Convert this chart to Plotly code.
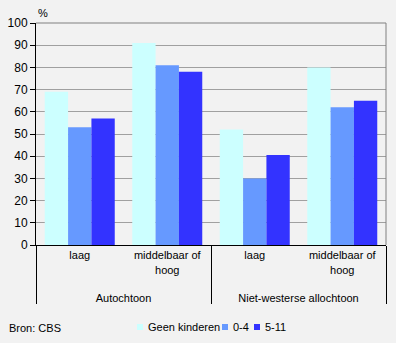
import plotly.graph_objects as go

groups = ["Autochtoon", "Autochtoon", "Niet-westerse allochtoon", "Niet-westerse allochtoon"]
levels = ["laag", "middelbaar of<br>hoog", "laag", "middelbaar of<br>hoog"]
series_names = ["Geen kinderen", "0-4", "5-11"]
geen_kinderen = [69, 91, 52, 80]
kind_0_4 = [53, 81, 30, 62]
kind_5_11 = [57, 78, 40.5, 65]
colors = ["#CCFFFF", "#6699FF", "#3333FF"]

W, H = 396, 343
L, R, T, B = 36, 10, 23, 98
pw, ph = W - L - R, H - T - B


def px_x(px):
    return (px - L) / pw


def px_y(py):
    return (H - B - py) / ph


fig = go.Figure()
for name, vals, col in zip(series_names, [geen_kinderen, kind_0_4, kind_5_11], colors):
    fig.add_trace(go.Bar(x=[["<br>" + g for g in groups], levels], y=vals, name=name,
                         marker=dict(color=col, line=dict(width=0))))

font_family = "Liberation Sans, Arial, sans-serif"
fig.update_layout(
    width=W, height=H,
    margin=dict(l=L, r=R, t=T, b=B, autoexpand=False),
    paper_bgcolor="#F2F2F2", plot_bgcolor="#F2F2F2",
    font=dict(family=font_family, size=11, color="#000000"),
    barmode="group", bargap=0.2, bargroupgap=0,
    showlegend=False,
)

# "%" unit label and source line
fig.add_annotation(text="%", x=px_x(36), xref="paper", xanchor="left",
                   y=px_y(13), yref="paper", yanchor="middle",
                   showarrow=False, font=dict(size=11))
fig.add_annotation(text="Bron: CBS", x=px_x(7), xref="paper", xanchor="left",
                   y=px_y(328), yref="paper", yanchor="middle",
                   showarrow=False, font=dict(size=11))

# legend: small colour squares followed by the series names
legend_x = [137, 222, 254]
for name, col, lx in zip(series_names, colors, legend_x):
    fig.add_shape(type="rect", xref="paper", yref="paper",
                  x0=px_x(lx), x1=px_x(lx + 6), y0=px_y(330), y1=px_y(324),
                  fillcolor=col, line=dict(width=0))
    fig.add_annotation(text=name, x=px_x(lx + 9), xref="paper", xanchor="left",
                       y=px_y(327), yref="paper", yanchor="middle",
                       showarrow=False, font=dict(size=11))

fig.update_yaxes(range=[0, 100], dtick=10, showgrid=True, gridcolor="#A0A0A0",
                 gridwidth=1, showline=True, linecolor="#000000", linewidth=1,
                 ticks="outside", ticklen=5, tickcolor="#000000", zeroline=False,
                 tickfont=dict(size=12), automargin=False)
fig.update_xaxes(showline=True, linecolor="#000000", linewidth=1,
                 showdividers=True, dividercolor="#000000", dividerwidth=1,
                 ticks="", tickfont=dict(size=11), automargin=False)
# plot frame on top and right
fig.add_shape(type="line", xref="paper", yref="paper", x0=0, x1=1, y0=1, y1=1,
              line=dict(color="#808080", width=1))
fig.add_shape(type="line", xref="paper", yref="paper", x0=1, x1=1, y0=0, y1=1,
              line=dict(color="#808080", width=1))

fig.write_html("out.html")
